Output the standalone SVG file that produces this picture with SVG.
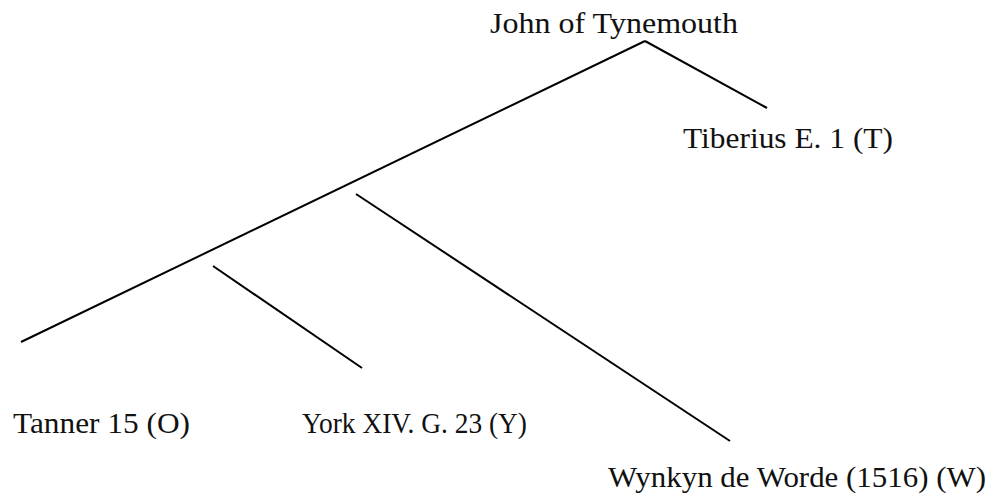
<svg xmlns="http://www.w3.org/2000/svg" width="994" height="499" viewBox="0 0 994 499">
  <style>
    .label { font-family: "Liberation Serif", "DejaVu Serif", serif; font-size: 30px; fill: #111; }
    .edge { stroke: #000; stroke-width: 2; fill: none; stroke-linecap: butt; }
  </style>
  <rect width="994" height="499" fill="#fff"/>
  <g id="connectors">
    <line class="edge" x1="645" y1="41" x2="21" y2="342"/>
    <line class="edge" x1="645" y1="41" x2="767" y2="108"/>
    <line class="edge" x1="213" y1="266" x2="362" y2="368"/>
    <line class="edge" x1="356" y1="194" x2="730" y2="441"/>
  </g>
  <g id="john"><text class="label" x="490" y="33" textLength="248" lengthAdjust="spacingAndGlyphs">John of Tynemouth</text></g>
  <g id="tiberius"><text class="label" x="683" y="148" textLength="210" lengthAdjust="spacingAndGlyphs">Tiberius E. 1 (T)</text></g>
  <g id="tanner"><text class="label" x="13" y="433" textLength="177" lengthAdjust="spacingAndGlyphs">Tanner 15 (O)</text></g>
  <g id="york"><text class="label" x="302" y="433" textLength="225" lengthAdjust="spacingAndGlyphs">York XIV. G. 23 (Y)</text></g>
  <g id="wynkyn"><text class="label" x="608" y="487" textLength="378" lengthAdjust="spacingAndGlyphs">Wynkyn de Worde (1516) (W)</text></g>
</svg>
